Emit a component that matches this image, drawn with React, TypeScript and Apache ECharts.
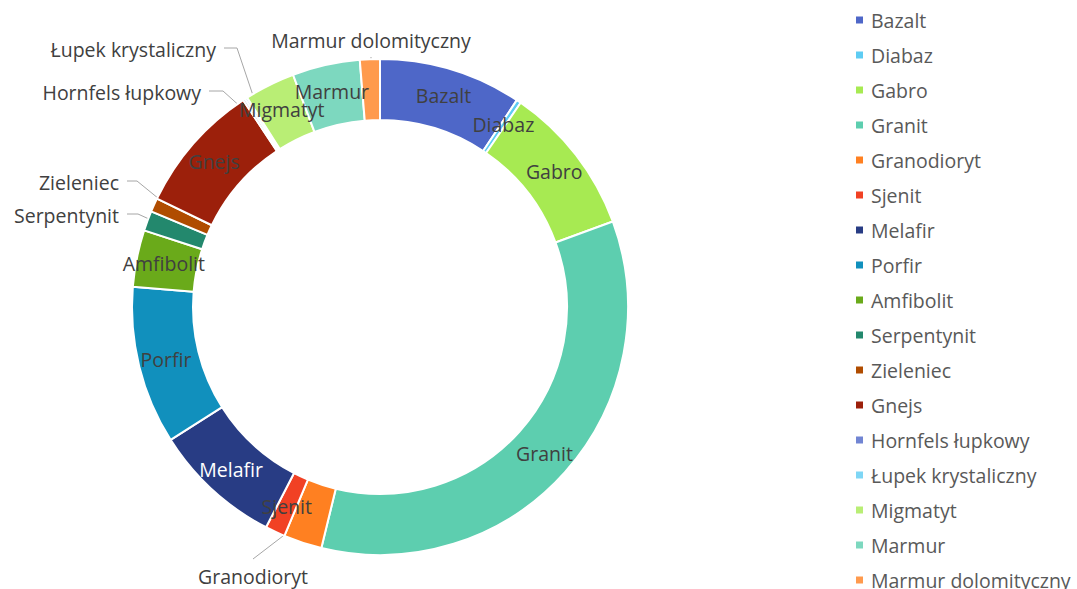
import React, { useEffect, useRef } from 'react';
import * as echarts from 'echarts';

const categories = [
  'Bazalt', 'Diabaz', 'Gabro', 'Granit', 'Granodioryt', 'Sjenit', 'Melafir', 'Porfir',
  'Amfibolit', 'Serpentynit', 'Zieleniec', 'Gnejs', 'Hornfels łupkowy', 'Łupek krystaliczny',
  'Migmatyt', 'Marmur', 'Marmur dolomityczny',
];
const values = [9.3, 0.3, 9.8, 34.4, 2.5, 1.3, 8.4, 10.3, 3.7, 1.3, 0.9, 8.5, 0.15, 0.15, 3.3, 4.4, 1.3];
const colors = [
  '#4E67C8', '#5ECCF3', '#A7EA52', '#5DCEAF', '#FF8021', '#F14124', '#283C84', '#1190BD',
  '#6AAA1A', '#23886D', '#B04C00', '#9C200B', '#7185D3', '#7ED6F5', '#B9EE75', '#7DD8BF', '#FF9A4D',
];

const FONT = 'Open Sans';
const FS = 19.5;
const CX = 380;
const CY = 307;
const R0 = 187;
const R1 = 248;

// label placement for labels that sit outside the ring
const outsideLabels: Record<string, { x: number; y: number; align: 'left' | 'right' | 'center'; elbow: number[] | null }> = {
  'Granodioryt': { x: 253, y: 576, align: 'center', elbow: [253, 559] },
  'Zieleniec': { x: 119, y: 182, align: 'right', elbow: [137, 181] },
  'Serpentynit': { x: 119, y: 215, align: 'right', elbow: [138, 214] },
  'Hornfels łupkowy': { x: 201, y: 92, align: 'right', elbow: [223, 91] },
  'Łupek krystaliczny': { x: 216, y: 49, align: 'right', elbow: [237, 48] },
  'Marmur dolomityczny': { x: 371, y: 40, align: 'center', elbow: null },
};

export default function App() {
  const ref = useRef<HTMLDivElement>(null);
  useEffect(() => {
    document.body.style.margin = '0';
    const chart = echarts.init(ref.current!, null, { renderer: 'svg' });
    const total = values.reduce((a, b) => a + b, 0);
    const midAngles: number[] = [];
    let acc = 0;
    values.forEach((v) => {
      midAngles.push(((acc + v / 2) / total) * Math.PI * 2);
      acc += v;
    });
    const data = categories.map((name, i) => {
      const out = outsideLabels[name];
      const item: any = { name, value: values[i], itemStyle: { color: colors[i] } };
      if (out) {
        item.label = { position: 'outside' };
        item.labelLine = { show: true };
      } else if (name === 'Melafir') {
        item.label = { color: '#FFFFFF' };
      }
      return item;
    });
    chart.setOption({
      animation: false,
      legend: {
        orient: 'vertical',
        left: 849,
        top: 5,
        height: 800,
        itemWidth: 9,
        itemHeight: 9,
        itemGap: 15,
        icon: 'rect',
        data: categories,
        textStyle: { fontFamily: FONT, fontSize: FS, color: '#595959', lineHeight: 20, padding: [0, 0, 0, 2] },
      },
      series: [
        {
          type: 'pie',
          center: [CX, CY],
          radius: [R0, R1],
          startAngle: 90,
          clockwise: true,
          avoidLabelOverlap: false,
          itemStyle: { borderColor: '#FFFFFF', borderWidth: 2 },
          label: {
            show: true,
            position: 'inside',
            formatter: '{b}',
            fontFamily: FONT,
            fontSize: FS,
            color: '#404040',
            overflow: 'none',
          },
          labelLine: { show: false, lineStyle: { color: '#A6A6A6', width: 1 } },
          labelLayout: (params: any) => {
            const name = categories[params.dataIndex];
            const out = outsideLabels[name];
            if (!out) return {};
            const a = midAngles[params.dataIndex];
            const rm = (R0 + R1) / 2;
            const mid = [CX + rm * Math.sin(a), CY - rm * Math.cos(a)];
            let end: number[];
            if (out.align === 'center') {
              end = out.elbow ? out.elbow : [out.x, out.y + 17];
            } else {
              end = [out.x + 8, out.y - 1];
            }
            const pts = out.elbow && out.align !== 'center' ? [mid, out.elbow, end] : [mid, end, end];
            return {
              x: out.x,
              y: out.y,
              align: out.align,
              verticalAlign: 'middle',
              labelLinePoints: pts,
            };
          },
          data,
        },
      ],
    });
    return () => chart.dispose();
  }, []);
  return <div ref={ref} style={{ width: 1077, height: 589 }} />;
}
